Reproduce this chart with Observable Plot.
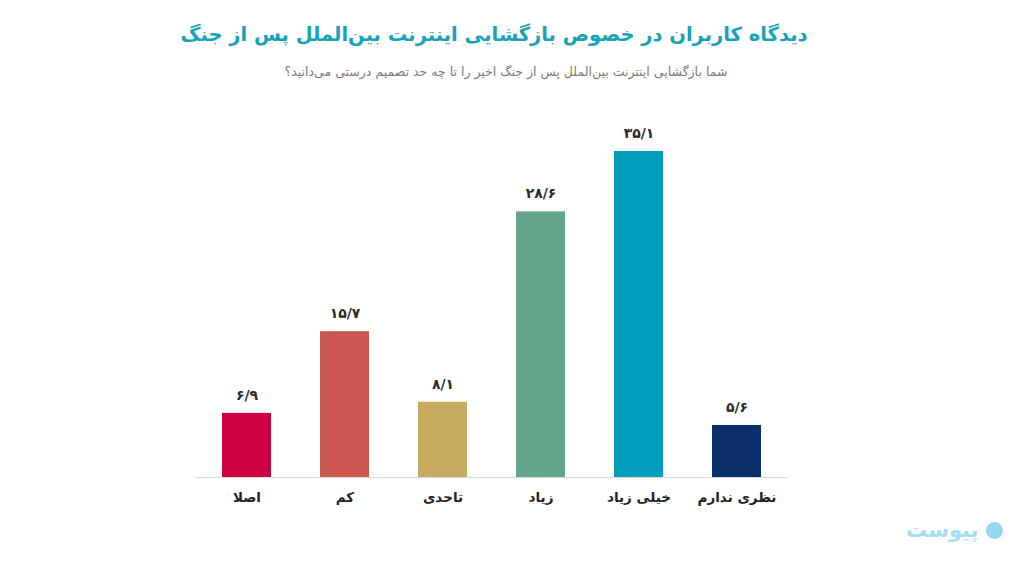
<!DOCTYPE html>
<html lang="fa">
<head>
<meta charset="utf-8">
<script src="https://cdn.jsdelivr.net/npm/d3@7"></script>
<script src="https://cdn.jsdelivr.net/npm/@observablehq/plot@0.6"></script>
<style>
  html, body { margin: 0; padding: 0; background: #fff; }
  #page { position: relative; width: 1024px; height: 561px; overflow: hidden; font-family: "DejaVu Sans", sans-serif; }
  #title { position: absolute; top: 23px; left: 0; width: 988px; text-align: center; direction: rtl;
           font-size: 19.5px; font-weight: bold; color: #17a2b9; }
  #subtitle { position: absolute; top: 64px; left: 0; width: 1012px; text-align: center; direction: rtl;
              font-size: 12.5px; color: #7a7a7a; }
  #chart { position: absolute; top: 90px; left: 0; }
  #logo { position: absolute; left: 906px; top: 518px; display: flex; align-items: center; gap: 7px; direction: ltr; opacity: 0.55; }
  #logo .word { font-size: 21px; font-weight: bold; color: #5cc4e6; direction: rtl; letter-spacing: 1px; }
  #logo .dot { width: 17px; height: 17px; border-radius: 50%; background: #3fb6e3; }
</style>
</head>
<body>
<div id="page">
  <div id="title">دیدگاه کاربران در خصوص بازگشایی اینترنت بین‌الملل پس از جنگ</div>
  <div id="subtitle">شما بازگشایی اینترنت بین‌الملل پس از جنگ اخیر را  تا چه حد تصمیم درستی می‌دانید؟</div>
  <div id="chart"></div>
  <div id="logo"><span class="word">پیوست</span><span class="dot"></span></div>
</div>
<script>
// Answer categories, left to right
const categories = ["اصلا", "کم", "تاحدی", "زیاد", "خیلی زیاد", "نظری ندارم"];
// Share of respondents (percent)
const values = [6.9, 15.7, 8.1, 28.6, 35.1, 5.6];
// Bar colours per category
const colors = ["#cc0040", "#cb5750", "#c8aa60", "#65a68a", "#009ebd", "#0b2f6b"];

const data = categories.map((c, i) => ({category: c, value: values[i]}));

// Persian digits with a slash as decimal separator
const faDigits = "۰۱۲۳۴۵۶۷۸۹";
const fa = v => String(v).replace(/\d/g, d => faDigits[d]).replace(".", "/");

const chart = Plot.plot({
  width: 1024,
  height: 440,
  marginTop: 61,
  marginBottom: 53,
  marginLeft: 195,
  marginRight: 236,
  style: {fontFamily: "DejaVu Sans, sans-serif", background: "transparent"},
  x: {domain: categories, paddingInner: 0.5, paddingOuter: 0.25, label: null},
  y: {domain: [0, d3.max(values)], axis: null},
  color: {domain: categories, range: colors},
  marks: [
    Plot.barY(data, {x: "category", y: "value", fill: "category"}),
    Plot.ruleY([0], {stroke: "#d9d9d9", strokeWidth: 1.2}),
    Plot.text(data, {x: "category", y: "value", text: d => fa(d.value), dy: -18,
      fontSize: 14, fontWeight: "bold", fill: "#2b2b2b"}),
    Plot.axisX({tickSize: 0, tickPadding: 15, fontSize: 13.5, fontWeight: "bold", color: "#222", label: null})
  ]
});
document.getElementById("chart").appendChild(chart);
</script>
</body>
</html>
